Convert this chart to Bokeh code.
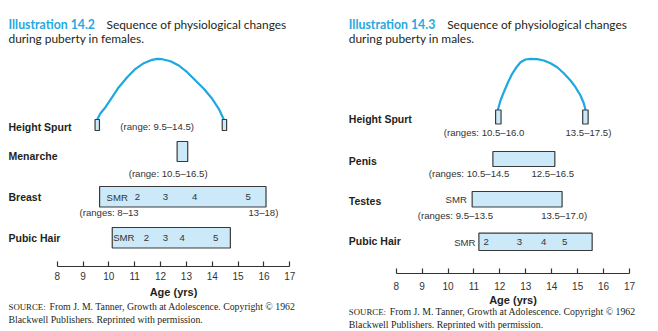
from bokeh.plotting import figure
from bokeh.layouts import row
from bokeh.models import Range1d, FixedTicker
from bokeh.embed import file_html
from bokeh.resources import INLINE
from bokeh.core.properties import value

# ---------------- data ----------------
tick_ages = [8, 9, 10, 11, 12, 13, 14, 15, 16, 17]
tick_labels = [str(t) for t in tick_ages]
stage_names = ["2", "3", "4", "5"]

# Females (Illustration 14.2) - height-spurt velocity curve
f_spurt_age = [9.548, 9.675, 9.869, 10.128, 10.384, 10.709, 11.030, 11.351, 11.676,
               11.869, 12.063, 12.384, 12.705, 13.030, 13.351, 13.673, 13.998, 14.253, 14.446]
f_spurt_vel = [0.0, 6.3, 12.3, 22.3, 32.3, 42.3, 50.7, 56.3, 59.7,
               60.7, 60.3, 58.3, 54.0, 47.3, 39.0, 30.7, 20.7, 10.7, 0.0]
f_spurt_boxes = [9.55, 14.47]
f_menarche = (12.64, 13.05)
f_breast = (9.64, 16.08)
f_breast_stage_age = [11.10, 12.19, 13.32, 15.39]
f_pubic = (10.13, 14.70)
f_pubic_stage_age = [11.45, 12.19, 12.84, 14.13]

# Males (Illustration 14.3)
m_spurt_age = [11.920, 12.024, 12.151, 12.306, 12.475, 12.641, 12.796, 12.989, 13.181,
               13.440, 13.694, 13.953, 14.211, 14.466, 14.725, 14.918, 15.110, 15.238, 15.303]
m_spurt_vel = [0.0, 9.5, 17.8, 27.2, 36.2, 42.8, 47.8, 50.5, 51.2,
               50.8, 49.5, 46.8, 42.8, 36.8, 29.5, 22.8, 14.5, 6.8, 0.0]
m_spurt_boxes = [11.94, 15.30]
m_penis = (11.73, 14.12)
m_testes = (10.93, 14.40)
m_pubic = (11.19, 15.56)
m_pubic_stage_age = [11.47, 12.75, 13.69, 14.50]

BLUE = "#1ea7e1"
TITLE_BLUE = "#27a8e0"
FILL = "#cbe9f8"
EDGE = "#3a3a3a"
TXT = "#231f20"
GRAY = "#333333"
SANS = "Liberation Sans"
TFONT = "Lato"
SERIF = "Liberation Serif"


def make_fig(x0_px, scale, axis_y, standoff, label_standoff):
    start = 8 - x0_px / scale
    end = start + 329 / scale
    p = figure(width=329, height=331, output_backend="svg", toolbar_location=None,
               x_range=Range1d(start, end), y_range=Range1d(331, 0),
               min_border_left=0, min_border_right=0, min_border_top=0,
               min_border_bottom=0)
    p.yaxis.visible = False
    p.grid.visible = False
    p.outline_line_color = None
    p.background_fill_color = "white"
    p.border_fill_color = "white"
    ax = p.xaxis[0]
    ax.fixed_location = axis_y
    ax.ticker = FixedTicker(ticks=tick_ages)
    ax.major_label_overrides = {t: l for t, l in zip(tick_ages, tick_labels)}
    ax.bounds = (8, 17)
    ax.minor_tick_line_color = None
    ax.major_tick_in = 5
    ax.major_tick_out = 0
    ax.axis_line_color = GRAY
    ax.axis_line_width = 1.2
    ax.major_tick_line_color = GRAY
    ax.major_tick_line_width = 1.2
    ax.major_label_text_font = SANS
    ax.major_label_text_font_size = "10px"
    ax.major_label_text_color = GRAY
    ax.major_label_standoff = standoff
    ax.axis_label = "Age (yrs)"
    ax.axis_label_text_font = SANS
    ax.axis_label_text_font_style = "bold"
    ax.axis_label_text_font_size = "11px"
    ax.axis_label_text_color = TXT
    ax.axis_label_standoff = label_standoff
    px = lambda v: start + v / scale
    return p, px


def txt(p, x, y, s, size="9.6px", font=SANS, style="normal", color=GRAY, align="left"):
    p.text(x=[x], y=[y], text=[s], text_font=value(font), text_font_size=size,
           text_font_style=style, text_color=color, text_align=align,
           text_baseline="middle")


def box(p, l, r, t, b):
    p.quad(left=[l], right=[r], top=[t], bottom=[b], fill_color=FILL,
           line_color=EDGE, line_width=1.2)


def title(p, px, x_bold, x_rest, line1_rest, line2, num):
    txt(p, px(x_bold), 23.5, "Illustration " + num, size="12.3px", font=TFONT,
        style="bold", color=TITLE_BLUE)
    txt(p, px(x_rest), 23.5, line1_rest, size="11.9px", font=TFONT, color=TXT)
    txt(p, px(x_bold), 37.5, line2, size="11.9px", font=TFONT, color=TXT)


def source(p, px, x, y1, y2):
    txt(p, px(x), y1, "SOURCE:", size="8.8px", font=SERIF, color=TXT)
    txt(p, px(x + 41), y1,
        "From J. M. Tanner, Growth at Adolescence. Copyright \u00a9 1962",
        size="9.8px", font=SERIF, color=TXT)
    txt(p, px(x), y2, "Blackwell Publishers. Reprinted with permission.",
        size="9.8px", font=SERIF, color=TXT)


def row_label(p, px, x, y, s):
    txt(p, px(x), y, s, size="10.5px", style="bold", color=TXT)


# ---------------- left: females ----------------
pf, fx = make_fig(56.7, 25.844, 266, 5, 3)
title(pf, fx, 8, 106, "Sequence of physiological changes", "during puberty in females.", "14.2")

hs_top = 119
pf.line(x=f_spurt_age, y=[hs_top - v for v in f_spurt_vel], line_color=BLUE,
        line_width=2.2, line_join="round", line_cap="round")
for a in f_spurt_boxes:
    box(pf, a - 0.085, a + 0.085, hs_top, 130)
row_label(pf, fx, 8, 126, "Height Spurt")
txt(pf, fx(158), 125.5, "(range:  9.5\u201314.5)", align="center")

box(pf, f_menarche[0], f_menarche[1], 141, 161)
row_label(pf, fx, 8, 155, "Menarche")
txt(pf, fx(169), 172.5, "(range:  10.5\u201316.5)", align="center")

box(pf, f_breast[0], f_breast[1], 186, 206.5)
row_label(pf, fx, 8, 196.5, "Breast")
txt(pf, fx(116.7), 196.5, "SMR", align="center")
for a, s in zip(f_breast_stage_age, stage_names):
    txt(pf, a, 196.5, s, align="center")
txt(pf, fx(79), 211.5, "(ranges:  8\u201313")
txt(pf, fx(248), 211.5, "13\u201318)")

box(pf, f_pubic[0], f_pubic[1], 227, 247.5)
row_label(pf, fx, 8, 237.5, "Pubic Hair")
txt(pf, fx(123.3), 237, "SMR", align="center")
for a, s in zip(f_pubic_stage_age, stage_names):
    txt(pf, a, 237, s, align="center")

source(pf, fx, 8, 306, 319)

# ---------------- right: males ----------------
pm, mx = make_fig(66.7, 25.92, 273, 8, 1)
title(pm, mx, 19.3, 117.7, "Sequence of physiological changes", "during puberty in males.", "14.3")

hs_top_m = 109.5
pm.line(x=m_spurt_age, y=[hs_top_m - v for v in m_spurt_vel], line_color=BLUE,
        line_width=2.2, line_join="round", line_cap="round")
for a in m_spurt_boxes:
    box(pm, a - 0.105, a + 0.105, hs_top_m, 123.5)
row_label(pm, mx, 19.3, 118.3, "Height Spurt")
txt(pm, mx(114.3), 131.7, "(ranges:  10.5\u201316.0")
txt(pm, mx(236), 131.7, "13.5\u201317.5)")

box(pm, m_penis[0], m_penis[1], 151, 166)
row_label(pm, mx, 19.3, 160, "Penis")
txt(pm, mx(99.3), 172.7, "(ranges:  10.5\u201314.5")
txt(pm, mx(202), 172.7, "12.5\u201316.5")

box(pm, m_testes[0], m_testes[1], 191, 206.5)
row_label(pm, mx, 19.3, 200, "Testes")
txt(pm, mx(126.7), 199, "SMR", align="center")
txt(pm, mx(88.3), 215, "(ranges:  9.5\u201313.5")
txt(pm, mx(211.7), 215, "13.5\u201317.0)")

box(pm, m_pubic[0], m_pubic[1], 232.7, 250)
row_label(pm, mx, 19.3, 240.7, "Pubic Hair")
txt(pm, mx(146), 242, "SMR", align="right")
for a, s in zip(m_pubic_stage_age, stage_names):
    txt(pm, a, 241.5, s, align="center")

source(pm, mx, 19.3, 311, 324)

layout = row(pf, pm)
open("out.html", "w").write(file_html(layout, INLINE))
